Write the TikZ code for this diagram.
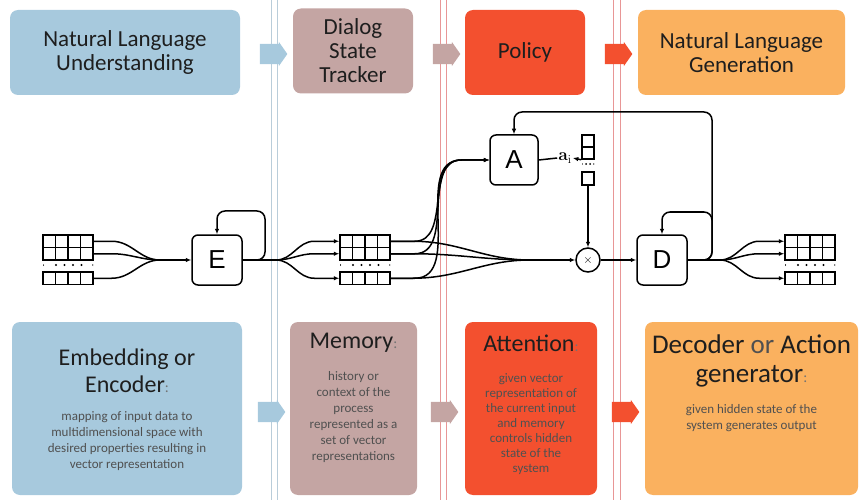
\documentclass[tikz,border=0pt]{standalone}
\usepackage[no-math]{fontspec}
\setmainfont{Carlito}
\newfontfamily\figfont{Liberation Sans}
\usetikzlibrary{arrows.meta,shapes.arrows,calc}

\definecolor{nlublue}{RGB}{167,201,221}
\definecolor{dstrose}{RGB}{196,165,163}
\definecolor{polred}{RGB}{243,80,47}
\definecolor{nlgorange}{RGB}{250,177,95}
\definecolor{sepblue}{RGB}{185,205,218}
\definecolor{sepred}{RGB}{232,150,150}
\definecolor{ink}{RGB}{30,30,30}
\definecolor{soft}{RGB}{80,80,80}

\newcommand{\colonmark}{{\color{soft!80}\fontsize{15}{15}\selectfont:}}

\tikzset{
  stagebox/.style={rounded corners=8pt, align=center, text=ink, inner sep=0pt},
  toptext/.style={font=\fontsize{23}{24}\selectfont},
  boxtitle/.style={align=center, text=ink, inner sep=0pt, font=\fontsize{24}{27}\selectfont},
  boxbody/.style={align=center, text=soft, inner sep=0pt, font=\fontsize{13}{16}\selectfont},
  chev/.style={single arrow, single arrow head extend=2pt, single arrow tip angle=110,
    minimum height=27pt, inner sep=10pt, draw=none},
  wire/.style={line width=1.5pt},
  block/.style={draw, wire, fill=white, rounded corners=6pt, minimum width=50pt,
    minimum height=50pt, inner sep=0pt, font=\figfont\fontsize{26}{26}\selectfont},
  cellrow/.style={draw, wire, minimum width=50pt, minimum height=12.5pt, inner sep=0pt,
    path picture={\foreach \k in {1,2,3}
      \draw[wire] ([xshift=\k*12.5pt]path picture bounding box.north west)
        -- ([xshift=\k*12.5pt]path picture bounding box.south west);}},
  dotrow/.style={minimum width=50pt, minimum height=6pt, inner sep=0pt,
    path picture={\foreach \k in {13,21.5,30,38.5}
      \fill ([xshift=\k pt]path picture bounding box.west) circle (1.2pt);
      \fill (path picture bounding box.west) circle (1pt);
      \fill (path picture bounding box.east) circle (1pt);}},
  vcell/.style={draw, wire, minimum width=12pt, minimum height=12pt, inner sep=0pt},
  vdots/.style={minimum width=12pt, minimum height=5pt, inner sep=0pt,
    path picture={\foreach \k in {4,8}
      \fill ([xshift=\k pt]path picture bounding box.west) circle (1pt);
      \fill (path picture bounding box.west) circle (0.9pt);
      \fill (path picture bounding box.east) circle (0.9pt);}}
}

\begin{document}
\begin{tikzpicture}[x=1pt, y=-1pt, >={Latex[length=5.5pt,width=4.5pt]}]
    \useasboundingbox (0,0) rectangle (860,500);
    % Separators
    \foreach \x in {271,277} \draw[sepblue, line width=0.9pt] (\x,0) -- (\x,500);
    \foreach \x in {440,446,613,620} \draw[sepred, line width=0.9pt] (\x,0) -- (\x,500);

    % Nodes
    \node[stagebox, toptext, fill=nlublue, minimum width=230pt, minimum height=85pt] (top1) at (125,52.5) {Natural Language\\Understanding};
    \node[stagebox, toptext, fill=dstrose, minimum width=120pt, minimum height=85pt] (top2) at (353,51) {Dialog\\State\\Tracker};
    \node[stagebox, toptext, fill=polred, minimum width=120pt, minimum height=85pt] (top3) at (525,52.5) {Policy};
    \node[stagebox, toptext, fill=nlgorange, minimum width=207pt, minimum height=85pt] (top4) at (741.5,52.5) {Natural Language\\Generation};

    \node[chev, fill=nlublue] (arr1) at (270,54) {};
    \node[chev, fill=dstrose] (arr2) at (443,54) {};
    \node[chev, fill=polred] (arr3) at (615,54) {};

    \node[stagebox, fill=nlublue, minimum width=230pt, minimum height=173pt] (bot1) at (127,408.5) {};
    \node[stagebox, fill=dstrose, minimum width=127pt, minimum height=173pt] (bot2) at (353.5,408.5) {};
    \node[stagebox, fill=polred, minimum width=132pt, minimum height=173pt] (bot3) at (531,408.5) {};
    \node[stagebox, fill=nlgorange, minimum width=213pt, minimum height=173pt] (bot4) at (751.5,408.5) {};

    \node[chev, fill=nlublue] (arr4) at (268,412) {};
    \node[chev, fill=dstrose] (arr5) at (441,412) {};
    \node[chev, fill=polred] (arr6) at (622,412) {};

    \node[boxtitle] (ttl1) at (127,371) {Embedding or\\Encoder\colonmark};
    \node[boxbody] (txt1) at (127,441) {mapping of input data to\\multidimensional space with\\desired properties resulting in\\vector representation};
    \node[boxtitle] (ttl2) at (353.5,343) {Memory\colonmark};
    \node[boxbody] (txt2) at (353.5,417) {history or\\context of the\\process\\represented as a\\set of vector\\representations};
    \node[boxtitle] (ttl3) at (531,343) {Attention\colonmark};
    \node[boxbody, font=\fontsize{13}{15}\selectfont] (txt3) at (531,424) {given vector\\representation of\\the current input\\and memory\\controls hidden\\state of the\\system};
    \node[boxtitle, font=\fontsize{27}{29}\selectfont] (ttl4) at (751.5,361) {Decoder {\color{soft}or} Action\\generator\colonmark};
    \node[boxbody] (txt4) at (751.5,418) {given hidden state of the\\system generates output};

    \node[cellrow] (in1) at (68,241.25) {};
    \node[cellrow] (in2) at (68,253.75) {};
    \node[dotrow] (in0) at (68,265) {};
    \node[cellrow] (in3) at (68,278.25) {};
    \coordinate (j1) at (160,260);
    \node[block] (E) at (217,260) {E};
    \coordinate (eloop) at (265,211);
    \coordinate (j2) at (276,260);

    \node[cellrow] (m1) at (365,241.25) {};
    \node[cellrow] (m2) at (365,253.75) {};
    \node[dotrow] (m0) at (365,265) {};
    \node[cellrow] (m3) at (365,278.25) {};

    \node[block, minimum width=48pt] (A) at (514,160) {A};
    \node[inner sep=1pt, font=\fontsize{17}{17}\selectfont] (ai) at (565,158) {$\mathbf{a}_{\mathrm{i}}$};
    \node[vcell] (v1) at (588,141) {};
    \node[vcell] (v2) at (588,153) {};
    \node[vdots] (v0) at (588,164) {};
    \node[vcell, minimum height=13pt] (v3) at (588,178.5) {};

    \coordinate (xin) at (530,260);
    \node[circle, draw, wire, minimum size=24pt, inner sep=0pt] (X) at (588,260) {\fontsize{13}{13}\selectfont$\times$};
    \node[block] (D) at (662,260) {D};
    \coordinate (dloop) at (712,212);
    \coordinate (bigloop) at (712,112);
    \coordinate (j3) at (720,260);

    \node[cellrow] (o1) at (810,241.25) {};
    \node[cellrow] (o2) at (810,253.75) {};
    \node[dotrow] (o0) at (810,265) {};
    \node[cellrow] (o3) at (810,278.25) {};

    % Connection
    \foreach \r in {in1,in2,in3} \draw[wire] (\r.east) -- ++(18,0) to[out=0,in=180] (j1);
    \draw[wire,->] (j1) -- (E.west);
    \draw[wire] (E.east) -- (j2);
    \draw[wire,->,rounded corners=8pt] (E.east) -| (eloop) -| (E.north);
    \foreach \r in {m1,m2,m3} \draw[wire,->] (j2) to[out=0,in=180] ($(\r.west)+(-25,0)$) -- (\r.west);
    \foreach \r in {m1,m2,m3} {
      \draw[wire,->] (\r.east) -- ++(24,0) to[out=0,in=180] ($(A.west)+(-28,0)$) -- (A.west);
      \draw[wire] (\r.east) -- ++(22,0) to[out=0,in=180] (xin);
    }
    \draw[wire,->] (xin) -- (X.west);
    \draw[wire] (A.east) -- (ai.west);
    \draw[wire,->] (v2.south west) -- (ai.east);
    \draw[wire,->] (v3.south) -- (X.north);
    \draw[wire,->] (X.east) -- (D.west);
    \draw[wire] (D.east) -- (j3);
    \draw[wire,->,rounded corners=8pt] (D.east) -| (dloop) -| (D.north);
    \draw[wire,->,rounded corners=8pt] (D.east) -| (bigloop) -| (A.north);
    \foreach \r in {o1,o2,o3} \draw[wire,->] (j3) to[out=0,in=180] ($(\r.west)+(-25,0)$) -- (\r.west);
\end{tikzpicture}
\end{document}
